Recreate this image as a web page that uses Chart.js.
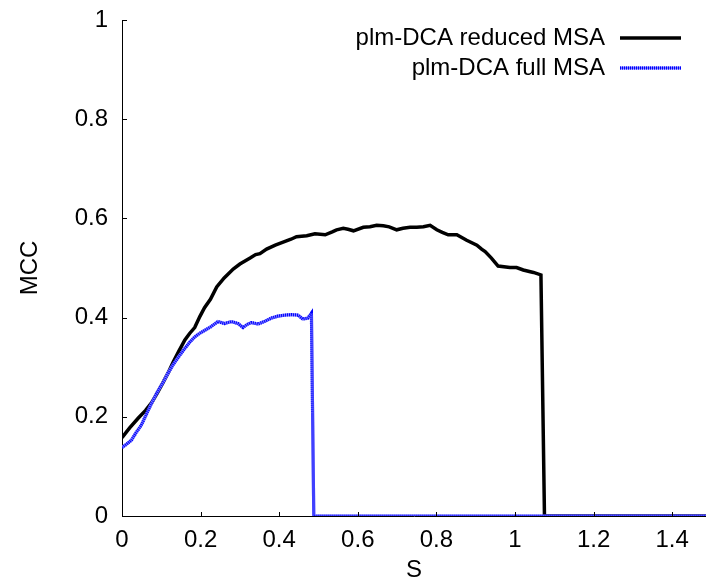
<!DOCTYPE html>
<html>
<head>
<meta charset="utf-8">
<script src="https://cdn.jsdelivr.net/npm/chart.js@4/dist/chart.umd.min.js"></script>
<style>
  html, body { margin: 0; padding: 0; background: #fff; }
  #wrap { width: 706px; height: 585px; position: relative; }
</style>
</head>
<body>
<div id="wrap"><canvas id="chart" width="706" height="585"></canvas></div>
<script>
// MCC as a function of the threshold S for two plm-DCA runs
const reducedS = [0, 0.02, 0.041, 0.06, 0.075, 0.09, 0.105, 0.117, 0.13, 0.145, 0.16, 0.172, 0.185, 0.198, 0.21, 0.225, 0.241, 0.26, 0.283, 0.3, 0.326, 0.34, 0.351, 0.368, 0.39, 0.41, 0.43, 0.444, 0.47, 0.491, 0.517, 0.535, 0.546, 0.563, 0.575, 0.589, 0.614, 0.631, 0.648, 0.665, 0.68, 0.699, 0.715, 0.733, 0.75, 0.767, 0.784, 0.801, 0.815, 0.83, 0.852, 0.877, 0.903, 0.915, 0.924, 0.94, 0.957, 0.987, 1.004, 1.021, 1.047, 1.066, 1.075, 1.5];
const reducedMCC = [0.158, 0.178, 0.197, 0.213, 0.228, 0.248, 0.27, 0.288, 0.31, 0.333, 0.355, 0.368, 0.38, 0.402, 0.42, 0.437, 0.462, 0.48, 0.498, 0.508, 0.52, 0.527, 0.529, 0.538, 0.546, 0.552, 0.558, 0.563, 0.565, 0.569, 0.567, 0.573, 0.577, 0.58, 0.578, 0.575, 0.582, 0.583, 0.586, 0.585, 0.583, 0.577, 0.58, 0.582, 0.582, 0.583, 0.586, 0.577, 0.572, 0.567, 0.567, 0.556, 0.546, 0.538, 0.533, 0.52, 0.504, 0.501, 0.501, 0.496, 0.491, 0.486, 0, 0];

const fullS = [0, 0.012, 0.024, 0.035, 0.049, 0.062, 0.075, 0.09, 0.105, 0.117, 0.13, 0.145, 0.16, 0.172, 0.185, 0.197, 0.21, 0.227, 0.244, 0.261, 0.278, 0.295, 0.308, 0.318, 0.329, 0.346, 0.362, 0.38, 0.397, 0.414, 0.431, 0.448, 0.46, 0.473, 0.482, 0.488, 1.5];
const fullMCC = [0.138, 0.145, 0.153, 0.167, 0.183, 0.205, 0.227, 0.25, 0.27, 0.288, 0.305, 0.322, 0.338, 0.35, 0.361, 0.368, 0.374, 0.382, 0.392, 0.388, 0.392, 0.388, 0.38, 0.386, 0.39, 0.387, 0.392, 0.399, 0.403, 0.405, 0.406, 0.405, 0.397, 0.399, 0.409, 0, 0];

const seriesNames = ['plm-DCA reduced MSA', 'plm-DCA full MSA'];
const xTickValues = [0, 0.2, 0.4, 0.6, 0.8, 1, 1.2, 1.4];
const yTickValues = [0, 0.2, 0.4, 0.6, 0.8, 1];

const FONT = "'Liberation Sans', Arial, Helvetica, sans-serif";
const FONT_SIZE = 24;

const toPoints = (xs, ys) => xs.map((x, i) => ({ x: x, y: ys[i] }));

// inward tick marks on the left and bottom axes
const innerTicks = {
  id: 'innerTicks',
  afterDatasetsDraw(chart) {
    const { ctx, scales: { x, y }, chartArea: a } = chart;
    ctx.save();
    ctx.strokeStyle = '#000';
    ctx.lineWidth = 1;
    ctx.beginPath();
    yTickValues.forEach(v => {
      const py = Math.round(y.getPixelForValue(v)) + 0.5;
      ctx.moveTo(a.left, py);
      ctx.lineTo(a.left + 5, py);
    });
    xTickValues.forEach(v => {
      const px = Math.round(x.getPixelForValue(v)) + 0.5;
      ctx.moveTo(px, a.bottom);
      ctx.lineTo(px, a.bottom - 4);
    });
    ctx.stroke();
    ctx.restore();
  }
};

// key in the top right: label, then a line sample to its right
const sideKey = {
  id: 'sideKey',
  afterDraw(chart) {
    const { ctx } = chart;
    ctx.save();
    ctx.font = FONT_SIZE + 'px ' + FONT;
    ctx.textAlign = 'right';
    ctx.textBaseline = 'middle';
    ctx.fillStyle = '#000';
    const textRight = 605, lineL = 620, lineR = 681;
    let row = 0;
    chart.data.datasets.forEach(ds => {
      if (ds.keyHidden) return;
      const yy = 38 + row * 30;
      ctx.fillText(ds.label, textRight, yy);
      (ds.keyStrokes || [{ color: ds.borderColor, dash: ds.borderDash }]).forEach(s => {
        ctx.beginPath();
        ctx.strokeStyle = s.color;
        ctx.lineWidth = ds.borderWidth;
        ctx.setLineDash(s.dash || []);
        ctx.moveTo(lineL, yy);
        ctx.lineTo(lineR, yy);
        ctx.stroke();
      });
      ctx.setLineDash([]);
      row++;
    });
    ctx.restore();
  }
};

const fullPoints = toPoints(fullS, fullMCC);

new Chart(document.getElementById('chart'), {
  type: 'line',
  data: {
    datasets: [
      {
        label: seriesNames[0],
        data: toPoints(reducedS, reducedMCC),
        borderColor: '#000000',
        borderWidth: 3.5,
        pointRadius: 0,
        tension: 0,
        order: 3
      },
      {
        // pale base of the dotted blue line
        label: seriesNames[1],
        keyHidden: true,
        data: fullPoints,
        borderColor: '#8080ff',
        borderWidth: 3.2,
        pointRadius: 0,
        tension: 0,
        order: 2
      },
      {
        label: seriesNames[1],
        data: fullPoints,
        borderColor: '#0000ff',
        borderWidth: 3.2,
        borderDash: [1, 1],
        keyStrokes: [{ color: '#8080ff' }, { color: '#0000ff', dash: [1, 1] }],
        pointRadius: 0,
        tension: 0,
        order: 1
      }
    ]
  },
  options: {
    responsive: false,
    animation: false,
    events: [],
    layout: { padding: { top: 20, right: 0, bottom: 0, left: 0 } },
    plugins: {
      legend: { display: false },
      tooltip: { enabled: false }
    },
    scales: {
      x: {
        type: 'linear',
        min: 0,
        max: 1.486,
        afterBuildTicks(scale) {
          scale.ticks = xTickValues.map(v => ({ value: v }));
        },
        afterFit(scale) {
          scale.height = 69;
          scale.paddingLeft = 0;
          scale.paddingRight = 0;
        },
        border: { display: true, color: '#000', width: 1 },
        grid: { display: false, drawTicks: false },
        ticks: {
          color: '#000',
          font: { family: FONT, size: FONT_SIZE },
          padding: 10,
          maxRotation: 0,
          autoSkip: false,
          callback: v => String(v)
        },
        title: {
          display: true,
          text: 'S',
          color: '#000',
          font: { family: FONT, size: FONT_SIZE },
          padding: { top: 0, bottom: 0 }
        }
      },
      y: {
        type: 'linear',
        min: 0,
        max: 1,
        afterBuildTicks(scale) {
          scale.ticks = yTickValues.map(v => ({ value: v }));
        },
        afterFit(scale) {
          scale.width = 122;
          scale.paddingTop = 0;
          scale.paddingBottom = 0;
        },
        border: { display: true, color: '#000', width: 1 },
        grid: { display: false, drawTicks: false },
        ticks: {
          color: '#000',
          font: { family: FONT, size: FONT_SIZE },
          padding: 14,
          callback: v => String(v)
        },
        title: {
          display: true,
          text: 'MCC',
          color: '#000',
          font: { family: FONT, size: FONT_SIZE },
          padding: { top: 16, bottom: 0 }
        }
      }
    }
  },
  plugins: [innerTicks, sideKey]
});
</script>
</body>
</html>
